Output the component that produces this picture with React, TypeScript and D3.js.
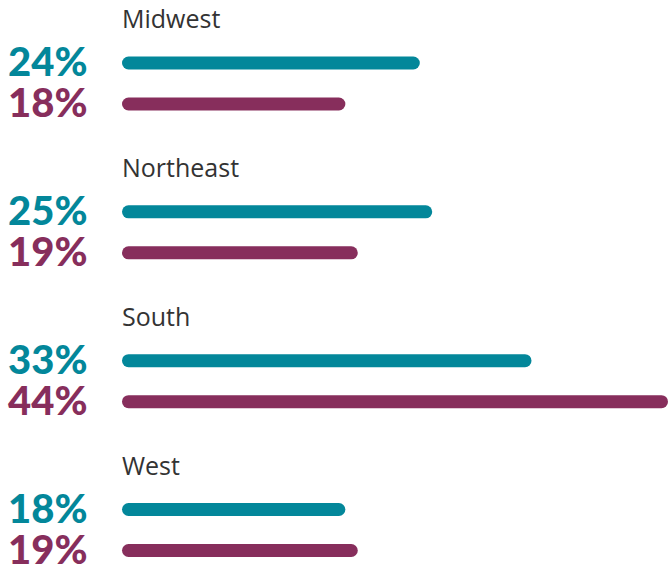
import React from "react";
import * as d3 from "d3";

const categories = ["Midwest", "Northeast", "South", "West"];
const seriesA = [24, 25, 33, 18];
const seriesB = [18, 19, 44, 19];
const colors = ["#03879a", "#872e5c"];

const W = 668;
const H = 572;

export default function App() {
  const x = d3.scaleLinear().domain([0, 44]).range([122, 668]);
  const y = d3
    .scalePoint<string>()
    .domain(categories)
    .range([63, 509.5]);
  const barH = 13;
  const series = [seriesA, seriesB];
  const offsets = [0, 41];
  return (
    <svg
      width={W}
      height={H}
      style={{ position: "absolute", left: 0, top: 0, background: "#fff" }}
    >
      {categories.map((c, i) => {
        const cy = y(c) as number;
        return (
          <g key={c}>
            <text
              x={122}
              y={cy - 35}
              fontFamily="'Open Sans', sans-serif"
              fontSize={25}
              fill="#333"
            >
              {c}
            </text>
            {series.map((s, k) => {
              const by = cy + offsets[k];
              return (
                <g key={k}>
                  <rect
                    x={x(0)}
                    y={by - barH / 2}
                    width={x(s[i]) - x(0)}
                    height={barH}
                    rx={barH / 2}
                    fill={colors[k]}
                  />
                  <text
                    x={8}
                    y={by + 13}
                    fontFamily="Lato, sans-serif"
                    fontWeight={900}
                    fontSize={40}
                    fill={colors[k]}
                  >
                    {s[i]}%
                  </text>
                </g>
              );
            })}
          </g>
        );
      })}
    </svg>
  );
}
